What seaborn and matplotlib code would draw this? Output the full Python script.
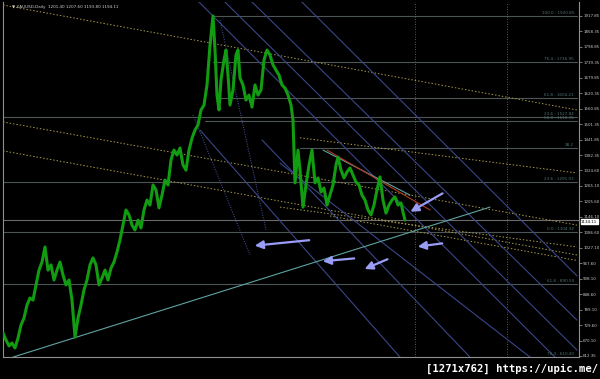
import numpy as np
import pandas as pd
import seaborn as sns
import matplotlib
matplotlib.use("Agg")
import matplotlib.pyplot as plt

# ---------------- data ----------------
bars = [3, 6, 9, 12, 15, 18, 21, 24, 27, 30, 33, 36, 39, 42, 45, 48, 51, 54, 57, 60,
        63, 66, 69, 72, 75, 78, 81, 84, 87, 90, 93, 96, 99, 102, 105, 108, 111, 114, 117, 120,
        123, 126, 129, 132, 135, 138, 141, 144, 147, 150, 153, 156, 159, 162, 165, 168, 171, 174, 177, 180,
        183, 186, 189, 192, 195, 198, 201, 204, 207, 210, 213, 215, 217, 219, 221, 224, 226, 228, 230, 233,
        236, 238, 240, 243, 246, 249, 252, 255, 258, 261, 264, 267, 270, 273, 276, 279, 282, 285, 288, 291,
        293, 295, 298, 300, 303, 306, 309, 312, 315, 318, 321, 324, 327, 330, 333, 336, 338, 341, 344, 347,
        350, 353, 356, 359, 362, 365, 368, 371, 374, 377, 380, 383, 386, 389, 392, 395, 398, 401, 403, 405]
prices = [701, 674, 651, 662, 643, 681, 731, 758, 808, 835, 827, 885, 942, 973, 1031, 942, 962, 904, 942, 973,
          923, 885, 904, 827, 685, 758, 808, 866, 904, 962, 989, 962, 885, 912, 942, 904, 950, 973, 1012, 1058,
          1115, 1173, 1154, 1115, 1096, 1134, 1104, 1173, 1211, 1192, 1269, 1250, 1181, 1230, 1288, 1269, 1365, 1403, 1384, 1411,
          1346, 1326, 1403, 1449, 1480, 1499, 1557, 1576, 1653, 1806, 1918, 1787, 1614, 1557, 1672, 1749, 1787, 1691, 1576, 1634,
          1768, 1787, 1680, 1653, 1595, 1614, 1568, 1653, 1614, 1634, 1749, 1787, 1768, 1730, 1710, 1691, 1653, 1641, 1614, 1576,
          1518, 1277, 1403, 1326, 1184, 1269, 1346, 1403, 1277, 1296, 1242, 1257, 1192, 1230, 1269, 1346, 1376, 1326, 1296, 1319,
          1334, 1307, 1280, 1269, 1230, 1211, 1173, 1154, 1192, 1250, 1300, 1211, 1161, 1192, 1211, 1223, 1192, 1200, 1165, 1134]

ytick_labels = ["1917.85", "1858.35", "1798.85", "1739.35", "1679.85", "1620.35", "1560.85", "1501.35",
                "1441.85", "1382.35", "1324.60", "1265.10", "1205.60", "1146.10", "1086.60", "1027.10",
                "967.60", "908.10", "848.60", "789.10", "729.60", "670.10", "612.35"]
last_price = 1134.11
header = "\u25BC XAUUSD,Daily  1201.40 1207.60 1193.80 1194.11"

# Fibonacci / horizontal levels: (price, start bar, label)
fib_prices = [1918, 1741, 1603, 1530, 1514, 1412, 1281, 1088, 889]
fib_starts = [213, 213, 220, 3, 205, 300, 3, 3, 3]
fib_labels = ["100.0 : 1920.85", "76.4 : 1736.95", "61.8 : 1604.21", "23.6 : 1527.84", "50.0 : 1510.35",
              "38.2", "23.6 : 1291.03", "0.0 : 1104.32", "61.8 : 890.50"]
bottom_label = "76.4 : 610.40"

# dotted channel lines (bar, price) pairs
dotted_lines = [((3, 1960), (577, 1557)),
                ((3, 1511), (577, 1115)),
                ((300, 1450), (577, 1315)),
                ((3, 1400), (577, 1000)),
                ((280, 1184), (577, 1031)),
                ((330, 1150), (577, 979))]

# steep blue trend lines
blue_lines = [((197, 1979), (555, 608)),
              ((223, 1979), (577, 635)),
              ((250, 1979), (577, 750)),
              ((300, 1979), (577, 920)),
              ((262, 1442), (470, 608)),
              ((200, 1480), (400, 608)),
              ((280, 1353), (530, 608))]
blue_dotted = [((220, 1902), (266, 1097)),
               ((193, 1538), (250, 1000))]

teal_lines = [((13, 608), (490, 1184)),
              ((323, 1403), (410, 1230))]
red_line = ((327, 1403), (430, 1173))

# arrows: (tail, head)
arrows = [((445, 1242), (408, 1161)),
          ((312, 1058), (252, 1035)),
          ((357, 988), (320, 975)),
          ((390, 988), (362, 942)),
          ((445, 1046), (415, 1031))]

# ---------------- figure ----------------
sns.set_theme(style="dark")
plt.rcParams["font.family"] = ["DejaVu Sans"]

W, H = 600, 379
fig = plt.figure(figsize=(W / 100, H / 100), dpi=100)
fig.patch.set_facecolor("black")
ax = fig.add_axes([3 / W, 22 / H, 576 / W, 355 / H])
ax.set_facecolor("black")

x0, x1 = 3, 579
y0, y1 = 608.4, 1971.6

# horizontal fib lines
for p, s, lab in zip(fib_prices, fib_starts, fib_labels):
    ax.plot([s, 577], [p, p], color="#4c5656", lw=0.8, zorder=1)
    ax.text(574, p + 3, lab, color="#4f7272", fontsize=3.0, ha="right", va="bottom", zorder=2)
ax.text(574, 612, bottom_label, color="#4f7272", fontsize=3.0, ha="right", va="bottom")

# current price line
ax.axhline(last_price, color="#6a6a6a", lw=0.8, zorder=1)

# vertical dotted separators
for vx in [415, 507]:
    ax.axvline(vx, color="#777777", lw=0.6, ls=(0, (1, 2)), zorder=1)

for (a, b) in dotted_lines:
    ax.plot([a[0], b[0]], [a[1], b[1]], color="#a89a4a", lw=0.7, ls=(0, (1.5, 2)), zorder=2)

for (a, b) in blue_lines:
    ax.plot([a[0], b[0]], [a[1], b[1]], color="#3a4688", lw=0.8, zorder=2)
for (a, b) in blue_dotted:
    ax.plot([a[0], b[0]], [a[1], b[1]], color="#4a58a8", lw=0.7, ls=(0, (1, 1.5)), zorder=2)

for (a, b) in teal_lines:
    ax.plot([a[0], b[0]], [a[1], b[1]], color="#5fa3a3", lw=0.8, zorder=2)
ax.plot([red_line[0][0], red_line[1][0]], [red_line[0][1], red_line[1][1]], color="#b03a20", lw=0.8, zorder=2)

df = pd.DataFrame({"bar": bars, "price": prices})
sns.lineplot(data=df, x="bar", y="price", color="#119c11", lw=2.2, ax=ax, zorder=4)

for (t, h) in arrows:
    ax.annotate("", xy=h, xytext=t,
                arrowprops=dict(arrowstyle="-|>,head_length=0.4,head_width=0.2",
                                color="#9a9cf6", lw=1.6), zorder=5)

ax.set_xlim(x0, x1)
ax.set_ylim(y0, y1)
ax.set_xticks([])
ax.set_xlabel("")
ax.set_ylabel("")
ax.yaxis.tick_right()
tick_vals = [float(v) for v in ytick_labels]
ax.set_yticks(tick_vals)
ax.set_yticklabels(ytick_labels)
ax.tick_params(axis="y", colors="#8a8a8a", labelcolor="#c8c8c8", labelsize=2.9, length=2, width=0.6, pad=1)
ax.grid(False)
ax.spines["top"].set_visible(False)
for side in ["left", "bottom", "right"]:
    ax.spines[side].set_visible(True)
    ax.spines[side].set_color("#909090")
    ax.spines[side].set_linewidth(0.8)

# current price box
ax.text(581, last_price - 6, f"{last_price:.2f}", transform=ax.transData, fontsize=2.9, color="black",
        ha="left", va="center", clip_on=False,
        bbox=dict(boxstyle="square,pad=0.12", facecolor="white", edgecolor="white"))

fig.text(12 / W, 1 - 7 / H, header, color="#d0d0d0", fontsize=3.0, ha="left", va="center")
fig.text(598 / W, 1 - 369 / H, "[1271x762] https://upic.me/", color="white", fontsize=7.6,
         ha="right", va="center", family="DejaVu Sans Mono", fontweight="bold")

fig.savefig("out.png", dpi=100, facecolor="black")
